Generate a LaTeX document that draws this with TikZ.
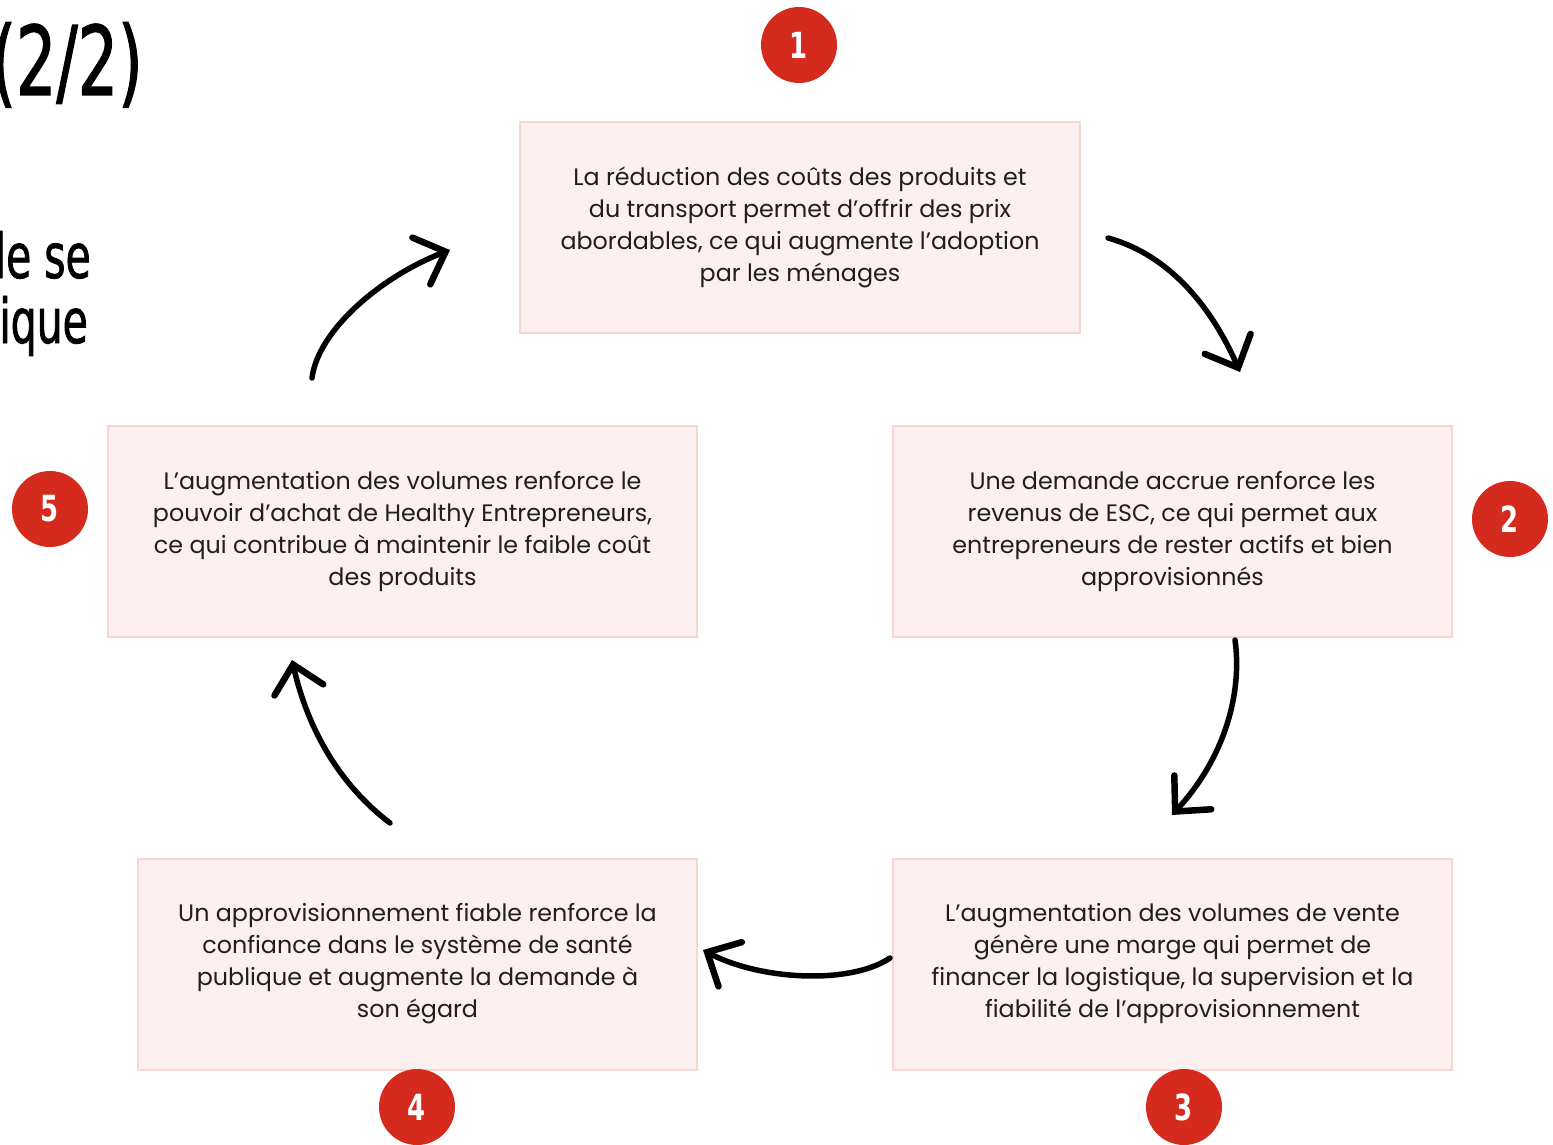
\documentclass[tikz,border=0pt]{standalone}
\usepackage{fontspec}
\setmainfont{Poppins}
\newfontfamily\condfont[FakeStretch=0.72]{DejaVu Sans}
\newfontfamily\titlefont[FakeStretch=0.66, FakeBold=1.2]{DejaVu Sans}
\usetikzlibrary{arrows.meta, positioning}
\definecolor{boxfill}{RGB}{252,239,239}
\definecolor{boxline}{RGB}{248,214,208}
\definecolor{badgered}{RGB}{213,43,30}

\tikzset{
  cyclebox/.style={draw=boxline, line width=2pt, fill=boxfill, minimum width=559pt, minimum height=211pt,
    align=center, font=\fontsize{23.8}{32}\selectfont, text=black!88},
  badge/.style={circle, fill=badgered, minimum size=76pt, inner sep=0pt, text=white,
    font=\condfont\bfseries\fontsize{36}{36}\selectfont},
  brush/.style={line width=5.5pt, line cap=round,
    -{Straight Barb[length=26pt, width=50pt, line width=6.5pt, line cap=round]}},
  titre/.style={inner sep=0pt, text=black}
}

\begin{document}
\begin{tikzpicture}[x=1pt, y=-1pt]
  \useasboundingbox (0,0) rectangle (1553,1145);
  \clip (0,0) rectangle (1553,1145);

  % Titre (coupe a gauche)
  \node[titre, anchor=base east, font=\titlefont\fontsize{96}{96}\selectfont] (t1) at (143,95) {(2/2)};
  \node[titre, anchor=base east, font=\titlefont\fontsize{62}{62}\selectfont] (t2) at (91,278) {le se};
  \node[titre, anchor=base east, font=\titlefont\fontsize{62}{62}\selectfont] (t3) at (88,343) {ique};

  % Etapes
  \node[cyclebox, minimum width=560pt] (b1) at (800,227.5) {La réduction des coûts des produits et\\du transport permet d’offrir des prix\\abordables, ce qui augmente l’adoption\\par les ménages};
  \node[cyclebox] (b2) at (1172.5,531) {Une demande accrue renforce les\\revenus de ESC, ce qui permet aux\\entrepreneurs de rester actifs et bien\\approvisionnés};
  \node[cyclebox] (b3) at (1172.5,964) {L’augmentation des volumes de vente\\génère une marge qui permet de\\financer la logistique, la supervision et la\\fiabilité de l’approvisionnement};
  \node[cyclebox] (b4) at (417.5,964) {Un approvisionnement fiable renforce la\\confiance dans le système de santé\\publique et augmente la demande à\\son égard};
  \node[cyclebox, minimum width=589pt] (b5) at (402.5,531) {L’augmentation des volumes renforce le\\pouvoir d’achat de Healthy Entrepreneurs,\\ce qui contribue à maintenir le faible coût\\des produits};

  % Pastilles
  \node[badge] (n1) at (799,45) {1};
  \node[badge] (n2) at (1510,519) {2};
  \node[badge] (n3) at (1184,1107) {3};
  \node[badge] (n4) at (417,1107) {4};
  \node[badge] (n5) at (50,509) {5};

  % Fleches
  \coordinate (s12) at (1108,238);  \coordinate (e12) at (1240,372);
  \coordinate (s23) at (1235,640);  \coordinate (e23) at (1172,815);
  \coordinate (s34) at (890,958);   \coordinate (e34) at (703,950);
  \coordinate (s45) at (390,823);   \coordinate (e45) at (292,660);
  \coordinate (s51) at (312,378);   \coordinate (e51) at (450,250);
  \draw[brush] (s12) .. controls (1170,255) and (1212,308) .. (e12);
  \draw[brush] (s23) .. controls (1242,690) and (1227,755) .. (e23);
  \draw[brush] (s34) .. controls (850,985) and (760,980) .. (e34);
  \draw[brush] (s45) .. controls (340,785) and (308,730) .. (e45);
  \draw[brush] (s51) .. controls (318,330) and (382,276) .. (e51);
\end{tikzpicture}
\end{document}
